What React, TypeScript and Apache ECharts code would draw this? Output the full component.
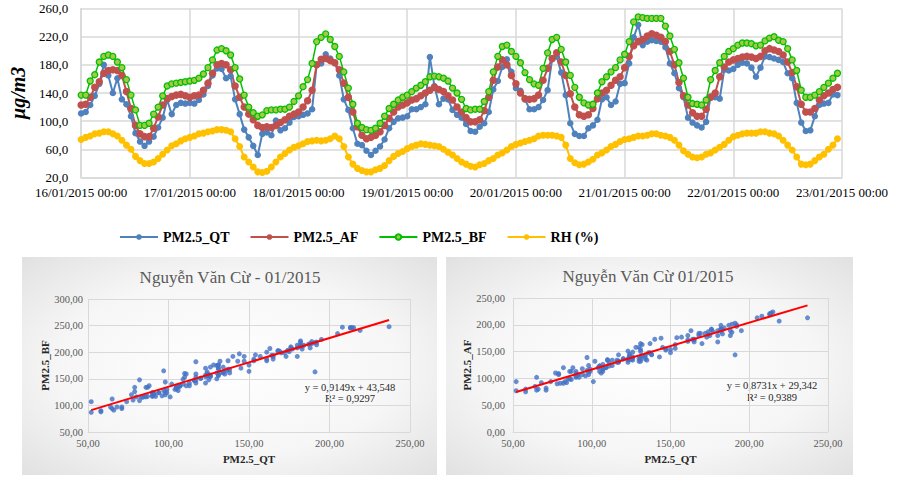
import React, { useEffect, useRef } from 'react';
import * as echarts from 'echarts';

const DAY_LABELS = [
  '16/01/2015 00:00', '17/01/2015 00:00', '18/01/2015 00:00', '19/01/2015 00:00',
  '20/01/2015 00:00', '21/01/2015 00:00', '22/01/2015 00:00', '23/01/2015 00:00',
];

const SERIES_NAMES = ['PM2.5_QT', 'PM2.5_AF', 'PM2.5_BF', 'RH (%)'];

// hourly values, 16/01/2015 00:00 .. 22/01/2015 23:00
const QT = [
  111, 113, 123, 136, 153, 180, 165, 140, 161, 131, 124, 107, 83, 71, 65, 71, 78, 91, 105, 130, 110, 123, 126, 125,
  126, 125, 130, 138, 150, 165, 175, 174, 161, 164, 131, 110, 88, 77, 65, 52, 82, 84, 80, 101, 87, 90, 98, 106,
  107, 109, 111, 117, 180, 182, 195, 189, 183, 165, 131, 116, 90, 68, 66, 58, 52, 58, 64, 74, 90, 99, 104, 105,
  107, 117, 117, 120, 124, 191, 150, 124, 132, 131, 116, 109, 105, 96, 86, 85, 92, 97, 113, 145, 157, 177, 188, 170,
  147, 143, 131, 117, 117, 120, 130, 144, 188, 192, 169, 137, 97, 82, 79, 79, 90, 94, 102, 131, 134, 123, 128, 153,
  154, 182, 219, 237, 208, 213, 215, 214, 213, 205, 182, 168, 147, 134, 105, 98, 94, 91, 99, 135, 134, 132, 173, 172,
  174, 180, 183, 182, 176, 163, 176, 192, 191, 189, 187, 184, 168, 161, 126, 98, 86, 87, 107, 123, 125, 126, 138, 137,
];

const AF = [
  123, 124, 134, 148, 156, 168, 172, 173, 172, 165, 142, 118, 94, 82, 78, 78, 90, 106, 123, 132, 135, 137, 138, 136,
  134, 136, 137, 144, 154, 168, 180, 182, 180, 173, 150, 134, 120, 110, 102, 94, 91, 92, 91, 94, 98, 102, 107, 110,
  113, 120, 129, 144, 180, 188, 189, 186, 183, 173, 154, 134, 113, 92, 80, 75, 77, 80, 85, 94, 104, 113, 120, 123,
  126, 130, 132, 136, 140, 144, 148, 145, 142, 136, 130, 120, 113, 105, 99, 99, 102, 115, 134, 158, 177, 187, 180, 165,
  153, 140, 132, 131, 132, 137, 158, 175, 189, 197, 184, 165, 139, 120, 109, 107, 109, 118, 132, 140, 144, 151, 158, 163,
  176, 192, 207, 213, 216, 221, 224, 222, 219, 213, 199, 180, 155, 136, 123, 112, 107, 107, 117, 134, 140, 163, 177, 184,
  187, 189, 191, 192, 191, 189, 192, 200, 203, 201, 199, 194, 184, 169, 149, 124, 113, 113, 118, 130, 136, 140, 145, 148,
];

const BF = [
  137, 137, 157, 166, 184, 192, 194, 192, 184, 176, 159, 137, 116, 94, 94, 97, 110, 120, 136, 150, 153, 154, 155, 156,
  157, 158, 161, 167, 176, 187, 201, 203, 200, 194, 176, 160, 137, 120, 112, 107, 109, 115, 116, 116, 117, 117, 120, 128,
  136, 149, 159, 182, 213, 219, 224, 216, 206, 192, 170, 147, 124, 97, 91, 88, 87, 90, 97, 107, 118, 124, 130, 134,
  137, 142, 147, 151, 156, 163, 164, 163, 161, 157, 147, 140, 131, 118, 116, 117, 117, 128, 142, 170, 192, 206, 208, 199,
  192, 183, 169, 159, 153, 151, 175, 197, 216, 219, 202, 184, 165, 148, 134, 126, 123, 124, 140, 156, 163, 170, 176, 187,
  195, 213, 241, 248, 247, 246, 246, 246, 246, 235, 221, 202, 183, 161, 134, 125, 124, 123, 130, 159, 172, 183, 192, 199,
  203, 208, 211, 211, 210, 207, 208, 214, 218, 220, 215, 213, 203, 187, 172, 144, 134, 134, 137, 142, 148, 154, 161, 168,
];

const RH = [
  74, 77, 79, 82, 83, 85, 85, 82, 79, 73, 66, 60, 50, 44, 40, 40, 42, 47, 53, 59, 65, 68, 72, 75,
  77, 79, 82, 83, 85, 86, 88, 88, 87, 85, 75, 64, 49, 42, 35, 28, 27, 29, 35, 42, 49, 54, 59, 63,
  65, 68, 71, 72, 73, 72, 73, 75, 79, 75, 64, 49, 39, 33, 30, 28, 28, 31, 33, 37, 44, 50, 54, 57,
  61, 64, 66, 68, 67, 66, 65, 64, 60, 56, 52, 47, 42, 39, 36, 35, 38, 40, 44, 47, 52, 55, 59, 64,
  67, 69, 71, 73, 75, 79, 80, 80, 80, 79, 77, 66, 47, 41, 38, 39, 42, 46, 52, 55, 59, 64, 67, 71,
  74, 75, 77, 79, 79, 80, 82, 82, 80, 79, 77, 73, 66, 58, 53, 49, 48, 49, 53, 55, 59, 63, 67, 73,
  78, 80, 82, 83, 83, 83, 85, 85, 83, 82, 79, 73, 66, 59, 49, 39, 38, 39, 44, 49, 53, 60, 66, 75,
];

const TITLE_BF = 'Nguyễn Văn Cừ - 01/2015';
const TITLE_AF = 'Nguyễn Văn Cừ 01/2015';
const SLOPE_BF = 0.9149;
const INTERCEPT_BF = 43.548;
const R2_BF = '0,9297';
const SLOPE_AF = 0.8731;
const INTERCEPT_AF = 29.342;
const R2_AF = '0,9389';

const SERIF = '"Liberation Serif", "Times New Roman", serif';
const GRID_GRAY = '#d9d9d9';

const comma = (v: number, d: number) => v.toFixed(d).replace('.', ',');

export default function App() {
  const ref = useRef<HTMLDivElement>(null);

  useEffect(() => {
    const chart = echarts.init(ref.current!, null, { renderer: 'svg' });
    const xMin = Math.min(...QT);
    const xMax = Math.max(...QT);
    const trend = (a: number, b: number) => [
      [xMin, a * xMin + b],
      [xMax, a * xMax + b],
    ];
    const panelFill = () =>
      new echarts.graphic.RadialGradient(0.5, 0.5, 0.75, [
        { offset: 0, color: '#ffffff' },
        { offset: 0.55, color: '#f6f6f6' },
        { offset: 1, color: '#dedede' },
      ]);

    const scatterX = (gridIndex: number) => ({
      type: 'value',
      gridIndex,
      min: 50,
      max: 250,
      interval: 50,
      name: 'PM2.5_QT',
      nameLocation: 'middle',
      nameGap: 21,
      nameTextStyle: { fontFamily: SERIF, fontSize: 11, fontWeight: 'bold', color: '#262626' },
      axisLine: { show: true, lineStyle: { color: GRID_GRAY } },
      axisTick: { show: false },
      splitLine: { show: true, lineStyle: { color: GRID_GRAY } },
      axisLabel: { formatter: (v: number) => comma(v, 2), fontFamily: SERIF, fontSize: 10.5, color: '#595959', margin: 6 },
    });
    const scatterY = (gridIndex: number, min: number, max: number, name: string, gap: number, margin: number) => ({
      type: 'value',
      gridIndex,
      min,
      max,
      interval: 50,
      name,
      nameLocation: 'middle',
      nameGap: gap,
      nameRotate: 90,
      nameTextStyle: { fontFamily: SERIF, fontSize: 11, fontWeight: 'bold', color: '#262626' },
      axisLine: { show: false },
      axisTick: { show: false },
      splitLine: { show: true, lineStyle: { color: GRID_GRAY } },
      axisLabel: { formatter: (v: number) => comma(v, 2), fontFamily: SERIF, fontSize: 10.5, color: '#595959', margin },
    });

    const lineSeries = (name: string, data: number[], color: string, extra: any = {}) => ({
      name,
      type: 'line',
      xAxisIndex: 0,
      yAxisIndex: 0,
      data: data.map((v, i) => [i, v]),
      symbol: 'circle',
      symbolSize: 7,
      itemStyle: { color },
      lineStyle: { color, width: 2 },
      ...extra,
    });

    chart.setOption({
      animation: false,
      backgroundColor: '#ffffff',
      grid: [
        { left: 77, top: 8.5, width: 765, height: 169 },
        { left: 88, top: 299, width: 322, height: 133 },
        { left: 513, top: 298, width: 315, height: 134 },
      ],
      legend: {
        data: SERIES_NAMES,
        left: 114,
        top: 225,
        itemWidth: 38,
        itemHeight: 7,
        itemGap: 20,
        textStyle: { fontFamily: SERIF, fontSize: 14, fontWeight: 'bold', color: '#000' },
      },
      xAxis: [
        {
          type: 'value',
          gridIndex: 0,
          min: 0,
          max: 168,
          interval: 24,
          axisLine: { show: true, lineStyle: { color: GRID_GRAY, width: 1.5 } },
          axisTick: { show: false },
          splitLine: { show: true, lineStyle: { color: GRID_GRAY, width: 1.5 } },
          axisLabel: {
            formatter: (v: number) => DAY_LABELS[Math.round(v / 24)],
            fontFamily: SERIF,
            fontSize: 13,
            color: '#000',
            margin: 8,
          },
        },
        scatterX(1),
        scatterX(2),
      ],
      yAxis: [
        {
          type: 'value',
          gridIndex: 0,
          min: 20,
          max: 260,
          interval: 40,
          name: 'µg/m3',
          nameLocation: 'middle',
          nameGap: 51,
          nameRotate: 90,
          nameTextStyle: { fontFamily: SERIF, fontSize: 20, fontWeight: 'bold', fontStyle: 'italic', color: '#000' },
          axisLine: { show: true, lineStyle: { color: GRID_GRAY, width: 1.5 } },
          axisTick: { show: false },
          splitLine: { show: true, lineStyle: { color: GRID_GRAY, width: 1.5 } },
          axisLabel: { formatter: (v: number) => comma(v, 1), fontFamily: SERIF, fontSize: 13, color: '#000', margin: 13 },
        },
        scatterY(1, 50, 300, 'PM2.5_BF', 35, 5),
        scatterY(2, 0, 250, 'PM2.5_AF', 37, 8),
      ],
      graphic: [
        { type: 'rect', z: -10, shape: { x: 22, y: 257, width: 415, height: 218 }, style: { fill: panelFill() } },
        { type: 'rect', z: -10, shape: { x: 446, y: 257, width: 407, height: 218 }, style: { fill: panelFill() } },
        {
          type: 'text', x: 230, y: 277,
          style: { text: TITLE_BF, fill: '#595959', fontFamily: SERIF, fontSize: 17, align: 'center', verticalAlign: 'middle' },
        },
        {
          type: 'text', x: 648, y: 276,
          style: { text: TITLE_AF, fill: '#595959', fontFamily: SERIF, fontSize: 17, align: 'center', verticalAlign: 'middle' },
        },
        {
          type: 'text', x: 350, y: 387,
          style: { text: `y = ${comma(SLOPE_BF, 4)}x + ${comma(INTERCEPT_BF, 3)}`, fill: '#262626', fontFamily: SERIF, fontSize: 10.5, align: 'center', verticalAlign: 'middle' },
        },
        {
          type: 'text', x: 350, y: 398.5,
          style: { text: `R² = ${R2_BF}`, fill: '#262626', fontFamily: SERIF, fontSize: 10.5, align: 'center', verticalAlign: 'middle' },
        },
        {
          type: 'text', x: 772, y: 385.5,
          style: { text: `y = ${comma(SLOPE_AF, 4)}x + ${comma(INTERCEPT_AF, 3)}`, fill: '#262626', fontFamily: SERIF, fontSize: 10.5, align: 'center', verticalAlign: 'middle' },
        },
        {
          type: 'text', x: 772, y: 397.5,
          style: { text: `R² = ${R2_AF}`, fill: '#262626', fontFamily: SERIF, fontSize: 10.5, align: 'center', verticalAlign: 'middle' },
        },
      ],
      series: [
        lineSeries(SERIES_NAMES[0], QT, '#4f81bd', { symbolSize: 6.5 }),
        lineSeries(SERIES_NAMES[1], AF, '#c0504d', { symbolSize: 7.5 }),
        lineSeries(SERIES_NAMES[2], BF, '#00c000', {
          symbolSize: 6,
          itemStyle: { color: '#a6c94a', borderColor: '#00c000', borderWidth: 1.3 },
          lineStyle: { color: '#00c000', width: 1.5 },
        }),
        lineSeries(SERIES_NAMES[3], RH, '#ffc000'),
        {
          type: 'scatter',
          xAxisIndex: 1,
          yAxisIndex: 1,
          data: QT.map((q, i) => [q, BF[i]]),
          symbolSize: 5,
          itemStyle: { color: '#4472c4' },
        },
        {
          type: 'line',
          xAxisIndex: 1,
          yAxisIndex: 1,
          data: trend(SLOPE_BF, INTERCEPT_BF),
          symbol: 'none',
          lineStyle: { color: '#ff0000', width: 2 },
          z: 3,
        },
        {
          type: 'scatter',
          xAxisIndex: 2,
          yAxisIndex: 2,
          data: QT.map((q, i) => [q, AF[i]]),
          symbolSize: 5,
          itemStyle: { color: '#4472c4' },
        },
        {
          type: 'line',
          xAxisIndex: 2,
          yAxisIndex: 2,
          data: trend(SLOPE_AF, INTERCEPT_AF),
          symbol: 'none',
          lineStyle: { color: '#ff0000', width: 2 },
          z: 3,
        },
      ],
    });

    return () => chart.dispose();
  }, []);

  return <div ref={ref} style={{ position: 'absolute', left: 0, top: 0, width: 899, height: 479 }} />;
}
